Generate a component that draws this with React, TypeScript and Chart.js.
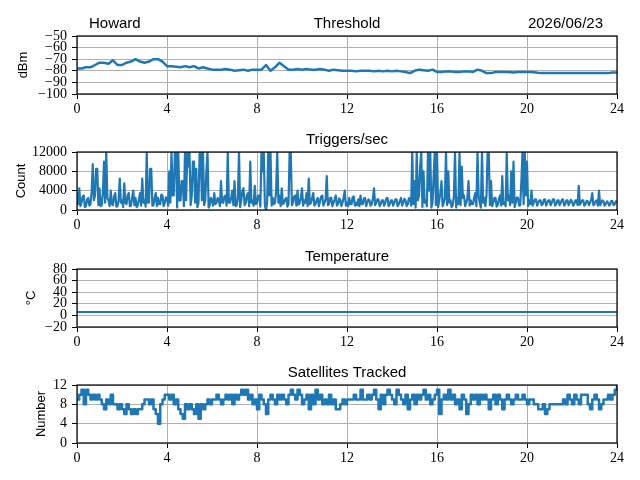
import React, { useEffect, useRef } from 'react';
import { Chart, registerables } from 'chart.js';

Chart.register(...registerables);

// sample spacing (hours) of each logged series
const thresholdStep = 0.2;
const triggerStep = 0.05;
const satelliteStep = 0.1;

const thresholdValues = [
  -78, -78, -77, -77, -75,
  -73, -73, -74, -71, -75,
  -75, -73, -72, -70, -72,
  -73, -72, -70, -70, -72,
  -76, -76, -76.5, -77, -76,
  -77, -76, -78, -77, -78,
  -79, -79, -79, -78.5, -79,
  -80, -79.5, -79, -80, -79,
  -79, -79, -75, -80, -77,
  -73, -76, -79, -79, -78.5,
  -79, -78.5, -79, -79, -78.5,
  -79, -80, -79, -79.5, -80,
  -80, -80, -80.5, -80, -80,
  -80, -80.5, -80, -80.5, -80,
  -80.5, -80, -80.5, -81, -82,
  -80, -79, -79.5, -80, -79,
  -81, -81, -80.5, -80.5, -81,
  -81, -80.5, -80.5, -81, -79,
  -80, -82, -82, -81, -81,
  -81, -81, -81.5, -81, -81,
  -81, -81, -81.5, -82, -82,
  -82, -82, -82, -82, -82,
  -82, -82, -82, -82, -82,
  -82, -82, -82, -82, -81.5,
  -81.5,
];

// one row per hour, 20 samples each
const triggerValues = [
  3500, 1200, 4500, 800, 1500, 2800, 3000, 600, 800, 2200, 2500, 900, 1200, 3800, 9500, 2000, 3000, 8500, 8500, 1000,
  4500, 800, 1000, 3500, 10000, 1500, 12000, 2500, 2000, 800, 4000, 1200, 1000, 2800, 3500, 700, 800, 2000, 6500, 1500,
  2000, 600, 5500, 1500, 1200, 3000, 3500, 800, 900, 2500, 4000, 1000, 2500, 600, 1000, 2200, 3500, 900, 6500, 1500,
  2000, 700, 12000, 1500, 1500, 8500, 8500, 900, 1000, 2500, 3500, 800, 2500, 1200, 1200, 3200, 3000, 800, 1500, 2600,
  2500, 900, 8000, 1500, 12000, 3000, 3000, 12000, 12000, 500, 12000, 2000, 2000, 6000, 6000, 800, 12000, 2000, 12000, 9000,
  12000, 1000, 3000, 10000, 10000, 1500, 8500, 600, 1500, 12000, 12000, 2000, 12000, 1000, 2000, 8000, 12000, 500, 1000, 2500,
  2000, 900, 3500, 1200, 1500, 2500, 2000, 800, 6000, 1500, 1500, 2800, 3000, 900, 12000, 1500, 1500, 2400, 4000, 1000,
  6000, 800, 1000, 2500, 12000, 600, 2000, 4000, 4500, 1000, 1500, 3000, 3500, 800, 10000, 1500, 2000, 900, 5000, 1200,
  1500, 3000, 3000, 700, 12000, 8000, 12000, 1000, 0, 1500, 12000, 3000, 12000, 900, 2500, 1200, 1500, 4000, 12000, 1500,
  3000, 800, 4500, 1200, 1500, 2200, 2500, 700, 1200, 12000, 12000, 1000, 1500, 2800, 3000, 900, 4000, 1100, 1500, 2500,
  4500, 900, 2000, 1500, 3500, 800, 6500, 1200, 1500, 2500, 3500, 900, 1200, 2000, 2500, 800, 1800, 2800, 3000, 900,
  1500, 2200, 7000, 1000, 1200, 2500, 2500, 800, 1500, 2200, 3000, 900, 1200, 2400, 2000, 800, 1500, 2600, 4000, 900,
  1500, 800, 2500, 1200, 1200, 2600, 2800, 900, 1500, 1000, 2200, 800, 3000, 1200, 1200, 2400, 2500, 800, 1500, 2200,
  2000, 900, 1200, 2400, 4500, 1000, 1500, 2200, 2200, 800, 1200, 2000, 2000, 900, 1500, 2400, 2500, 800, 1200, 2000,
  2000, 900, 1500, 2200, 2200, 800, 1200, 1900, 2500, 900, 1500, 2300, 2000, 800, 1200, 2400, 2500, 900, 12000, 1200,
  6000, 500, 12000, 2000, 3000, 9000, 12000, 600, 8000, 1500, 2000, 800, 12000, 4000, 12000, 500, 1500, 7000, 12000, 1000,
  12000, 600, 2000, 3500, 6000, 800, 1500, 2500, 12000, 1000, 8000, 1500, 2000, 600, 1000, 2800, 12000, 500, 2500, 1200,
  12000, 1000, 9000, 2500, 3000, 800, 1500, 2400, 6000, 900, 2000, 1200, 1200, 2600, 3500, 800, 12000, 3000, 1500, 500,
  12000, 1500, 2500, 800, 3000, 12000, 12000, 1000, 6000, 800, 1500, 2500, 2500, 700, 1000, 2300, 3000, 900, 7000, 1200,
  1500, 800, 12000, 2000, 3000, 1000, 8000, 1500, 10000, 600, 1500, 2600, 2500, 900, 1000, 6000, 12000, 1200, 12000, 3000,
  10000, 800, 2000, 1200, 4000, 900, 1500, 2200, 2200, 900, 1500, 2000, 2000, 1000, 1200, 2100, 2200, 900, 1500, 2000,
  2000, 1000, 1500, 2200, 2200, 900, 1200, 2000, 2000, 1000, 1500, 2100, 2200, 900, 1200, 2000, 2000, 1000, 1500, 2100,
  1800, 900, 1200, 2000, 2000, 1000, 5000, 1100, 1500, 2000, 2000, 900, 1200, 1900, 1800, 1000, 1500, 2100, 3500, 1000,
  1200, 1800, 2000, 900, 4000, 1000, 1500, 2000, 1800, 900, 1200, 1800, 1600, 900, 1200, 1900, 1800, 1000, 1200, 1800,
  1500,
];

const temperatureHours = [0, 24];
const temperatureValues = [6, 6];

const satelliteValues = [
  9, 10, 11, 8, 11, 10, 9, 10, 9, 10,
  9, 8, 7, 9, 8, 10, 8, 8, 7, 8,
  7, 6, 8, 7, 6, 7, 6, 7, 7, 8,
  9, 9, 8, 9, 7, 6, 4, 8, 9, 10,
  10, 9, 10, 8, 9, 7, 6, 5, 8, 7,
  8, 7, 6, 8, 5, 8, 7, 8, 9, 8,
  9, 9, 10, 9, 8, 9, 10, 9, 10, 8,
  10, 9, 10, 11, 10, 11, 9, 10, 8, 9,
  7, 10, 9, 8, 6, 9, 10, 9, 8, 10,
  9, 10, 9, 8, 10, 11, 10, 9, 11, 10,
  8, 9, 10, 7, 10, 8, 11, 9, 10, 8,
  9, 8, 10, 8, 9, 7, 7, 8, 9, 8,
  9, 9, 9, 10, 9, 9, 11, 9, 9, 10,
  9, 10, 11, 9, 7, 10, 8, 10, 11, 10,
  9, 8, 11, 10, 9, 8, 10, 7, 9, 10,
  8, 10, 9, 10, 11, 9, 10, 8, 9, 10,
  11, 6, 9, 10, 9, 11, 9, 10, 8, 9,
  7, 10, 9, 6, 8, 10, 9, 10, 8, 10,
  9, 10, 9, 7, 9, 10, 8, 10, 9, 7,
  9, 10, 9, 8, 9, 10, 9, 9, 10, 9,
  8, 9, 9, 8, 8, 7, 7, 8, 6, 7,
  8, 8, 8, 8, 8, 8, 9, 8, 10, 9,
  8, 10, 9, 8, 10, 10, 10, 8, 7, 9,
  10, 9, 7, 8, 9, 9, 10, 9, 10, 11,
  12,
];

const hourTicks = [0, 4, 8, 12, 16, 20, 24];

const sampleHours = (count: number, step: number) =>
  Array.from({ length: count }, (_, i) => Math.round(i * step * 100) / 100);

const blue = '#1f77b4';
const gridGray = '#b0b0b0';
const sans = '"Liberation Sans", Arial, sans-serif';
const serif = '"Liberation Serif", "Times New Roman", serif';

const PAD_TOP = 30;
const AXIS_BOTTOM = 25;
const PLOT_H = 58;

interface PanelProps {
  top: number;
  hours: number[];
  values: number[];
  yMin: number;
  yMax: number;
  yStep: number;
  title: string;
  yLabel: string;
  yLabelX: number;
  leftText?: string;
  rightText?: string;
  stepped?: boolean;
  lineWidth?: number;
}

const fmt = (v: number) => String(v).replace('-', '\u2212');

const Panel: React.FC<PanelProps> = (p) => {
  const canvasRef = useRef<HTMLCanvasElement>(null);

  useEffect(() => {
    if (!canvasRef.current) return;

    const decor = {
      id: 'decor',
      afterDraw(chart: Chart) {
        const { ctx, chartArea: a } = chart;
        ctx.save();
        ctx.strokeStyle = '#000';
        ctx.lineWidth = 1.2;
        ctx.strokeRect(a.left, a.top, a.right - a.left, a.bottom - a.top);

        ctx.fillStyle = '#000';
        ctx.font = `15px ${sans}`;
        ctx.textBaseline = 'alphabetic';
        ctx.textAlign = 'center';
        ctx.fillText(p.title, (a.left + a.right) / 2, a.top - 8);
        if (p.leftText) {
          ctx.textAlign = 'left';
          ctx.fillText(p.leftText, a.left + 12, a.top - 8);
        }
        if (p.rightText) {
          ctx.textAlign = 'right';
          ctx.fillText(p.rightText, a.right - 14, a.top - 8);
        }

        ctx.font = `13px ${sans}`;
        ctx.translate(p.yLabelX, (a.top + a.bottom) / 2);
        ctx.rotate(-Math.PI / 2);
        ctx.textAlign = 'center';
        ctx.textBaseline = 'middle';
        ctx.fillText(p.yLabel, 0, 0);
        ctx.restore();
      },
    };

    const chart = new Chart(canvasRef.current, {
      type: 'line',
      data: {
        datasets: [
          {
            data: p.hours.map((h, i) => ({ x: h, y: p.values[i] })),
            borderColor: blue,
            borderWidth: p.lineWidth ?? 2,
            pointRadius: 0,
            fill: false,
            tension: 0,
            stepped: p.stepped ? true : false,
            borderJoinStyle: 'round',
          },
        ],
      },
      options: {
        animation: false,
        responsive: false,
        events: [],
        layout: { padding: { top: PAD_TOP, left: 0, right: 23, bottom: 0 } },
        plugins: {
          legend: { display: false },
          tooltip: { enabled: false },
          title: { display: false },
        },
        scales: {
          x: {
            type: 'linear',
            min: 0,
            max: 24,
            afterFit: (s: any) => {
              s.height = AXIS_BOTTOM;
            },
            afterBuildTicks: (s: any) => {
              s.ticks = hourTicks.map((v) => ({ value: v }));
            },
            ticks: {
              autoSkip: false,
              maxRotation: 0,
              padding: 2,
              color: '#000',
              font: { family: serif, size: 14 },
            },
            grid: { color: gridGray, tickColor: '#000', tickLength: 5, lineWidth: 1 },
            border: { display: false },
          },
          y: {
            min: p.yMin,
            max: p.yMax,
            afterFit: (s: any) => {
              s.width = 77;
            },
            ticks: {
              stepSize: p.yStep,
              autoSkip: false,
              padding: 5,
              color: '#000',
              font: { family: serif, size: 14 },
              callback: (v: any) => fmt(Number(v)),
            },
            grid: { color: gridGray, tickColor: '#000', tickLength: 5, lineWidth: 1 },
            border: { display: false },
          },
        },
      },
      plugins: [decor],
    });

    return () => {
      chart.destroy();
    };
  }, []);

  return (
    <canvas
      ref={canvasRef}
      width={640}
      height={PLOT_H + PAD_TOP + AXIS_BOTTOM}
      style={{ position: 'absolute', left: 0, top: p.top - PAD_TOP }}
    />
  );
};

const App: React.FC = () => {
  return (
    <div style={{ position: 'absolute', left: 0, top: 0, width: 640, height: 480, background: '#fff' }}>
      <Panel
        top={36}
        hours={sampleHours(thresholdValues.length, thresholdStep)}
        values={thresholdValues}
        yMin={-100}
        yMax={-50}
        yStep={10}
        title="Threshold"
        yLabel="dBm"
        yLabelX={23}
        leftText="Howard"
        rightText="2026/06/23"
        lineWidth={2.5}
      />
      <Panel
        top={152}
        hours={sampleHours(triggerValues.length, triggerStep)}
        values={triggerValues}
        yMin={0}
        yMax={12000}
        yStep={4000}
        title="Triggers/sec"
        yLabel="Count"
        yLabelX={21}
        lineWidth={2.2}
      />
      <Panel
        top={269}
        hours={temperatureHours}
        values={temperatureValues}
        yMin={-20}
        yMax={80}
        yStep={20}
        title="Temperature"
        yLabel="°C"
        yLabelX={31}
      />
      <Panel
        top={385}
        hours={sampleHours(satelliteValues.length, satelliteStep)}
        values={satelliteValues}
        yMin={0}
        yMax={12}
        yStep={4}
        title="Satellites Tracked"
        yLabel="Number"
        yLabelX={41}
        stepped
        lineWidth={2.5}
      />
    </div>
  );
};

export default App;
